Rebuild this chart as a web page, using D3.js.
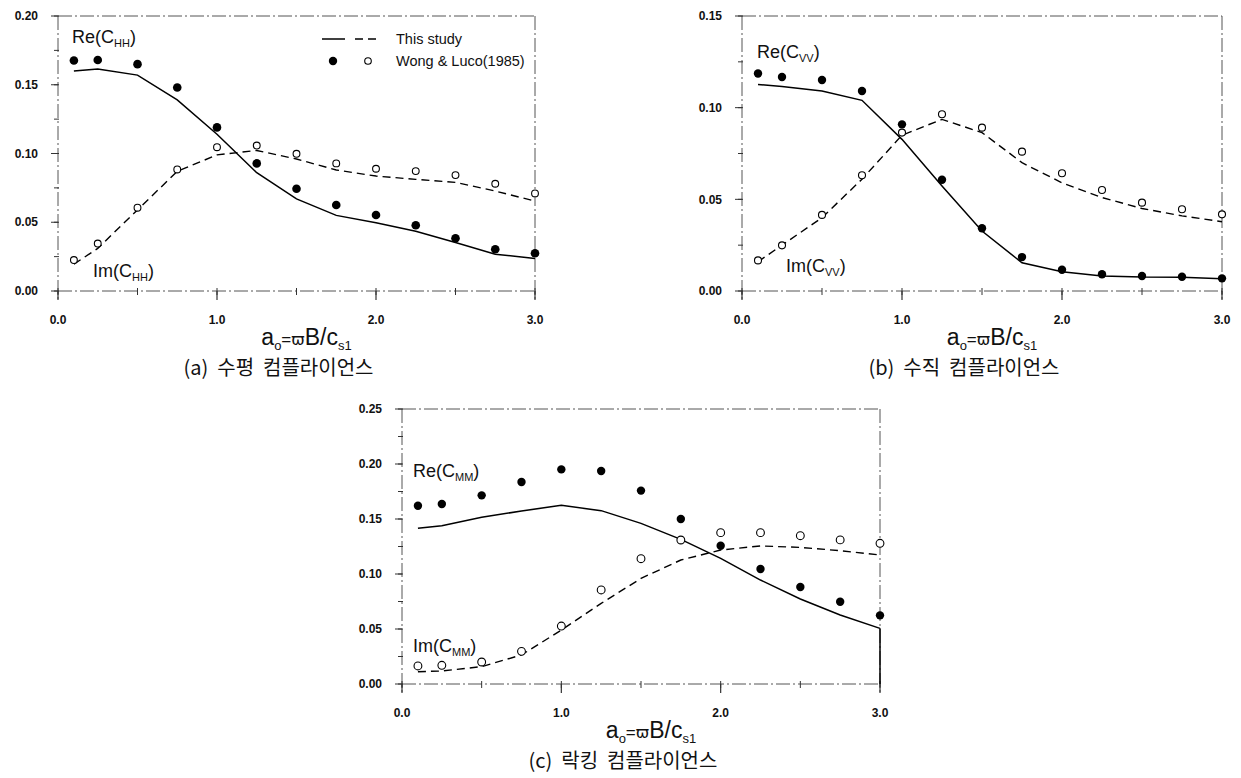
<!DOCTYPE html>
<html>
<head>
<meta charset="utf-8">
<script src="https://cdn.jsdelivr.net/npm/d3@7/dist/d3.min.js"></script>
<style>
  html, body { margin: 0; padding: 0; background: #fff; }
  svg { display: block; }
  text { font-family: "Liberation Sans", Arial, sans-serif; fill: #111; }
</style>
</head>
<body>
<svg id="chart" width="1241" height="778"></svg>
<script>
// ---------------- DATA ----------------
const freq = [0.1, 0.25, 0.5, 0.75, 1.0, 1.25, 1.5, 1.75, 2.0, 2.25, 2.5, 2.75, 3.0];
const xTicks = [0, 1, 2, 3];
const xTickLabels = ["0.0", "1.0", "2.0", "3.0"];

// (a) horizontal compliance
const reHH_study = [0.160, 0.1615, 0.157, 0.139, 0.114, 0.086, 0.067, 0.055, 0.0497, 0.0435, 0.0353, 0.0268, 0.0237];
const imHH_study = [0.0195, 0.031, 0.059, 0.087, 0.099, 0.1022, 0.096, 0.088, 0.0836, 0.0812, 0.079, 0.0727, 0.0654];
const reHH_wong  = [0.1676, 0.168, 0.165, 0.148, 0.119, 0.0928, 0.0744, 0.0625, 0.0553, 0.0478, 0.0384, 0.0304, 0.0275];
const imHH_wong  = [0.0225, 0.0345, 0.0606, 0.0884, 0.1046, 0.1058, 0.0998, 0.0928, 0.0889, 0.0872, 0.0843, 0.078, 0.071];
const yTicksA = [0.00, 0.05, 0.10, 0.15, 0.20];
const yTickLabelsA = ["0.00", "0.05", "0.10", "0.15", "0.20"];

// (b) vertical compliance
const reVV_study = [0.1127, 0.1115, 0.1091, 0.104, 0.0827, 0.0573, 0.0327, 0.0154, 0.0105, 0.0082, 0.0076, 0.0075, 0.0067];
const imVV_study = [0.016, 0.025, 0.040, 0.061, 0.085, 0.0936, 0.0864, 0.070, 0.059, 0.051, 0.045, 0.041, 0.0378];
const reVV_wong  = [0.1186, 0.1167, 0.1151, 0.1091, 0.0909, 0.0607, 0.0342, 0.0185, 0.0116, 0.0091, 0.0082, 0.0078, 0.0069];
const imVV_wong  = [0.0167, 0.0249, 0.0415, 0.0631, 0.0864, 0.0964, 0.0891, 0.076, 0.0642, 0.0551, 0.0482, 0.0446, 0.0418];
const yTicksB = [0.00, 0.05, 0.10, 0.15];
const yTickLabelsB = ["0.00", "0.05", "0.10", "0.15"];

// (c) rocking compliance
const reMM_study = [0.1415, 0.1439, 0.1515, 0.1573, 0.1624, 0.1576, 0.146, 0.1315, 0.1142, 0.0945, 0.0773, 0.0627, 0.0506];
const imMM_study = [0.0112, 0.0118, 0.0158, 0.0264, 0.049, 0.0733, 0.096, 0.1127, 0.1218, 0.1255, 0.1242, 0.1212, 0.1173];
const reMM_wong  = [0.162, 0.1636, 0.1715, 0.1836, 0.1951, 0.1936, 0.1758, 0.150, 0.1257, 0.1045, 0.0882, 0.0748, 0.0624];
const imMM_wong  = [0.0164, 0.017, 0.020, 0.0297, 0.0527, 0.0855, 0.1139, 0.1309, 0.1376, 0.1376, 0.1348, 0.131, 0.1279];
const yTicksC = [0.00, 0.05, 0.10, 0.15, 0.20, 0.25];
const yTickLabelsC = ["0.00", "0.05", "0.10", "0.15", "0.20", "0.25"];

const legendLabels = ["This study", "Wong & Luco(1985)"];
const captions = ["(a) 수평 컴플라이언스", "(b) 수직 컴플라이언스", "(c) 락킹 컴플라이언스"];

// ---------------- DRAWING ----------------
const svg = d3.select("#chart");

const panels = [
  { box: {l: 58, r: 535, t: 16, b: 291}, ymax: 0.20, yTicks: yTicksA, yLabels: yTickLabelsA,
    re: reHH_study, im: imHH_study, reW: reHH_wong, imW: imHH_wong, sub: "HH",
    reLab: [72, 43], imLab: [93, 277], caption: captions[0], rOpen: 3.4, rFill: 4.3, legend: true },
  { box: {l: 742, r: 1222, t: 16, b: 291}, ymax: 0.15, yTicks: yTicksB, yLabels: yTickLabelsB,
    re: reVV_study, im: imVV_study, reW: reVV_wong, imW: imVV_wong, sub: "VV",
    reLab: [757, 58], imLab: [786, 272], caption: captions[1], rOpen: 3.5, rFill: 4.2 },
  { box: {l: 402, r: 880, t: 409, b: 684}, ymax: 0.25, yTicks: yTicksC, yLabels: yTickLabelsC,
    re: reMM_study, im: imMM_study, reW: reMM_wong, imW: imMM_wong, sub: "MM",
    reLab: [413, 477], imLab: [413, 652], caption: captions[2], rOpen: 3.9, rFill: 4.2, dropRight: true }
];

const frameStyle = sel => sel.attr("stroke", "#555").attr("stroke-width", 1)
  .attr("stroke-dasharray", "14,3,2,3").attr("fill", "none");

panels.forEach(p => {
  const B = p.box;
  const x = d3.scaleLinear().domain([0, 3]).range([B.l, B.r]);
  const y = d3.scaleLinear().domain([0, p.ymax]).range([B.b, B.t]);
  const g = svg.append("g");

  // frame
  g.append("line").attr("x1", B.l).attr("x2", B.r).attr("y1", B.t).attr("y2", B.t).call(frameStyle);
  g.append("line").attr("x1", B.l).attr("x2", B.r).attr("y1", B.b).attr("y2", B.b).call(frameStyle);
  g.append("line").attr("x1", B.l).attr("x2", B.l).attr("y1", B.t).attr("y2", B.b + 10).call(frameStyle);
  g.append("line").attr("x1", B.r).attr("x2", B.r).attr("y1", B.t).attr("y2", B.b + 8).call(frameStyle);

  // y ticks (major + minor)
  const yMinor = d3.range(0, p.ymax + 1e-9, 0.025);
  g.selectAll(".ymin").data(yMinor).enter().append("line")
    .attr("x1", B.l - 4).attr("x2", B.l + 1).attr("y1", d => y(d)).attr("y2", d => y(d))
    .attr("stroke", "#333").attr("stroke-width", 1);
  g.selectAll(".ymaj").data(p.yTicks).enter().append("line")
    .attr("x1", B.l - 7).attr("x2", B.l).attr("y1", d => y(d)).attr("y2", d => y(d))
    .attr("stroke", "#333").attr("stroke-width", 1);
  g.selectAll(".ylab").data(p.yTicks).enter().append("text")
    .attr("x", B.l - 20).attr("y", d => y(d)).attr("dy", "0.35em")
    .attr("text-anchor", "end").style("font-size", "12px").style("font-weight", "bold")
    .text((d, i) => p.yLabels[i]);

  // x ticks
  const xMinor = d3.range(0, 3.0001, 0.5);
  g.selectAll(".xmin").data(xMinor).enter().append("line")
    .attr("x1", d => x(d)).attr("x2", d => x(d)).attr("y1", B.b - 3).attr("y2", B.b + 4)
    .attr("stroke", "#333").attr("stroke-width", 1);
  g.selectAll(".xmaj").data(xTicks).enter().append("line")
    .attr("x1", d => x(d)).attr("x2", d => x(d)).attr("y1", B.b).attr("y2", B.b + 9)
    .attr("stroke", "#333").attr("stroke-width", 1.2);
  g.selectAll(".xlab").data(xTicks).enter().append("text")
    .attr("x", d => x(d)).attr("y", B.b + 29).attr("dy", "0.35em")
    .attr("text-anchor", "middle").style("font-size", "12px").style("font-weight", "bold")
    .text((d, i) => xTickLabels[i]);

  // lines
  const line = d3.line().x((d, i) => x(freq[i])).y(d => y(d));
  g.append("path").datum(p.re).attr("d", line).attr("fill", "none")
    .attr("stroke", "#000").attr("stroke-width", 1.5);
  g.append("path").datum(p.im).attr("d", line).attr("fill", "none")
    .attr("stroke", "#000").attr("stroke-width", 1.4).attr("stroke-dasharray", "8,5");

  if (p.dropRight) {
    g.append("line").attr("x1", x(3)).attr("x2", x(3))
      .attr("y1", y(p.re[p.re.length - 1])).attr("y2", y(0))
      .attr("stroke", "#000").attr("stroke-width", 1.5);
  }

  // markers
  g.selectAll(".fill").data(p.reW).enter().append("circle")
    .attr("cx", (d, i) => x(freq[i])).attr("cy", d => y(d)).attr("r", p.rFill)
    .attr("fill", "#000");
  g.selectAll(".open").data(p.imW).enter().append("circle")
    .attr("cx", (d, i) => x(freq[i])).attr("cy", d => y(d)).attr("r", p.rOpen)
    .attr("fill", "#fff").attr("stroke", "#000").attr("stroke-width", 1.1);

  // curve labels
  const lab = (pos, prefix) => {
    const t = g.append("text").attr("x", pos[0]).attr("y", pos[1]).style("font-size", "18px");
    t.append("tspan").text(prefix + "(C");
    t.append("tspan").attr("dy", 4).style("font-size", "11px").text(p.sub);
    t.append("tspan").attr("dy", -4).text(")");
  };
  lab(p.reLab, "Re");
  lab(p.imLab, "Im");

  // axis title
  const cx = (B.l + B.r) / 2 + 10;
  const tt = g.append("text").attr("x", cx).attr("y", B.b + 54)
    .attr("text-anchor", "middle").style("font-size", "23px");
  tt.append("tspan").text("a");
  tt.append("tspan").attr("dy", 5).style("font-size", "13px").text("o");
  tt.append("tspan").attr("dy", -5).style("font-size", "17px").text("=");
  tt.append("tspan").style("font-size", "16px").attr("font-family", "DejaVu Sans").text("ϖ");
  tt.append("tspan").text("B/c");
  tt.append("tspan").attr("dy", 5).style("font-size", "13px").text("s1");

  // caption
  g.append("text").attr("x", (B.l + B.r) / 2 - 18).attr("y", B.b + 77)
    .attr("dy", "0.35em").attr("text-anchor", "middle")
    .style("font-size", "20px").style("font-family", "'Noto Sans CJK KR', sans-serif")
    .style("font-weight", 400).attr("xml:space", "preserve")
    .text(p.caption.replace(") ", ")  ").replace(" 컴", "  컴"));

  // legend
  if (p.legend) {
    const lx1 = 322, lx2 = 355, ly1 = 39, ly2 = 61, tx = 396;
    g.append("line").attr("x1", lx1).attr("x2", lx1 + 23).attr("y1", ly1).attr("y2", ly1)
      .attr("stroke", "#000").attr("stroke-width", 1.5);
    g.append("line").attr("x1", lx2).attr("x2", lx2 + 23).attr("y1", ly1).attr("y2", ly1)
      .attr("stroke", "#000").attr("stroke-width", 1.4).attr("stroke-dasharray", "8,5");
    g.append("circle").attr("cx", 333).attr("cy", ly2).attr("r", 4.2).attr("fill", "#000");
    g.append("circle").attr("cx", 368).attr("cy", ly2).attr("r", 3.3).attr("fill", "#fff")
      .attr("stroke", "#000").attr("stroke-width", 1.1);
    g.append("text").attr("x", tx).attr("y", ly1).attr("dy", "0.35em").style("font-size", "14.5px").text(legendLabels[0]);
    g.append("text").attr("x", tx).attr("y", ly2).attr("dy", "0.35em").style("font-size", "14.5px").text(legendLabels[1]);
  }
});
</script>
</body>
</html>
